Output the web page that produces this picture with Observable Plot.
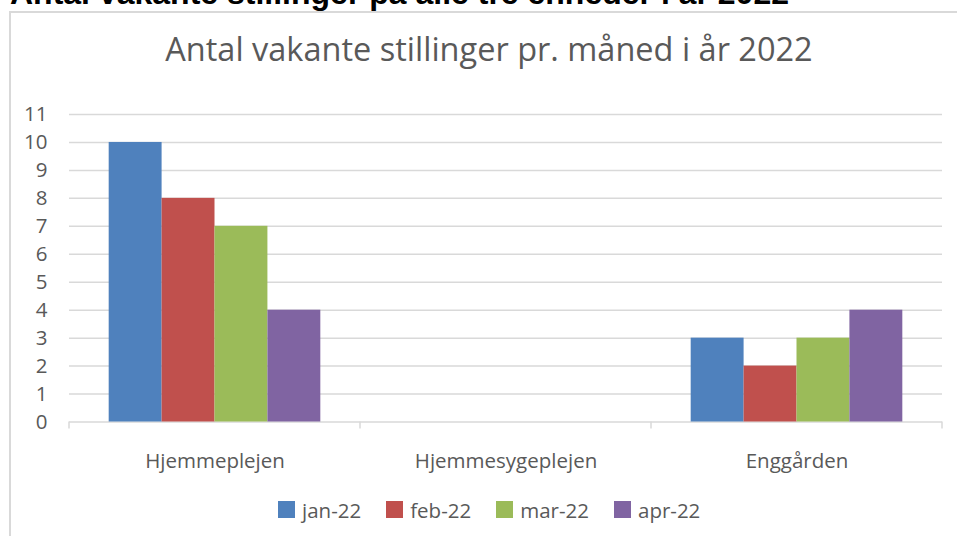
<!DOCTYPE html>
<html>
<head>
<meta charset="utf-8">
<script src="https://cdn.jsdelivr.net/npm/d3@7"></script>
<script src="https://cdn.jsdelivr.net/npm/@observablehq/plot@0.6"></script>
<style>
  html, body { margin: 0; padding: 0; background: #fff; width: 957px; height: 536px; overflow: hidden; position: relative; }
  #top-title { position: absolute; left: 10px; top: -23px; font: bold 32px "Liberation Sans", Arial, sans-serif; line-height: 32px; color: #000; white-space: nowrap; }
  #box { position: absolute; left: 9px; top: 11px; width: 960px; height: 600px; border: 2px solid #d9d9d9; box-sizing: border-box; }
  #title { position: absolute; left: 10px; width: 958px; top: 33px; text-align: center; font: 32.5px "Open Sans", sans-serif; line-height: 1; color: #595959; white-space: nowrap; }
  #chart { position: absolute; left: 0; top: 90px; }
  #legend { position: absolute; left: 278px; top: 493px; }
  .lg-swatch { margin-right: 25px !important; }
  .lg-swatch > svg { margin-right: 7px !important; }
</style>
</head>
<body>
<div id="top-title">Antal vakante stillinger på alle tre enheder i år 2022</div>
<div id="box"></div>
<div id="title">Antal vakante stillinger pr. måned i år 2022</div>
<div id="chart"></div>
<div id="legend"></div>
<script>
const categories = ["Hjemmeplejen", "Hjemmesygeplejen", "Enggården"];
const months = ["jan-22", "feb-22", "mar-22", "apr-22"];
const hjemmeplejen = [10, 8, 7, 4];
const hjemmesygeplejen = [0, 0, 0, 0];
const enggaarden = [3, 2, 3, 4];
const colors = ["#4F81BD", "#C0504D", "#9BBB59", "#8064A2"];
const yTicks = [0, 1, 2, 3, 4, 5, 6, 7, 8, 9, 10, 11];

const series = [hjemmeplejen, hjemmesygeplejen, enggaarden];
const data = categories.flatMap((c, i) => months.map((m, j) => ({cat: c, month: m, value: series[i][j]})));

const plot = Plot.plot({
  width: 957,
  height: 400,
  marginLeft: 69,
  marginRight: 15,
  marginTop: 24,
  marginBottom: 68.5,
  style: {fontFamily: "'Open Sans', sans-serif", fontSize: "20.5px", color: "#595959", background: "transparent", overflow: "visible"},
  fx: {domain: categories, padding: 0, label: null, axis: "bottom", tickSize: 0, tickPadding: 31},
  x: {domain: months, paddingInner: 0, paddingOuter: 0.75, axis: null, round: false},
  y: {domain: [0, 11], ticks: yTicks, tickSize: 0, tickPadding: 22, label: null},
  color: {domain: months, range: colors},
  marks: [
    Plot.gridY(yTicks.slice(1), {stroke: "#d9d9d9", strokeOpacity: 1, strokeWidth: 1.5}),
    Plot.ruleY([0], {stroke: "#d9d9d9", strokeWidth: 1.5}),
    Plot.barY(data, {fx: "cat", x: "month", y: "value", fill: "month"})
  ]
});
document.getElementById("chart").appendChild(plot);

// category boundary tick marks below the baseline, from the fx scale
const fx = plot.scale("fx");
const y = plot.scale("y");
const y0 = y.apply(0);
const bounds = fx.domain.map(d => fx.apply(d));
bounds.push(fx.apply(fx.domain[fx.domain.length - 1]) + fx.bandwidth);
d3.select(plot).append("g")
  .selectAll("line").data(bounds).join("line")
  .attr("x1", d => d).attr("x2", d => d)
  .attr("y1", y0).attr("y2", y0 + 7)
  .attr("stroke", "#d9d9d9").attr("stroke-width", 1.5);

const legend = plot.legend("color", {
  legend: "swatches",
  swatchSize: 17,
  className: "lg",
  style: {fontFamily: "'Open Sans', sans-serif", fontSize: "20.5px", color: "#595959"}
});
document.getElementById("legend").appendChild(legend);
</script>
</body>
</html>
